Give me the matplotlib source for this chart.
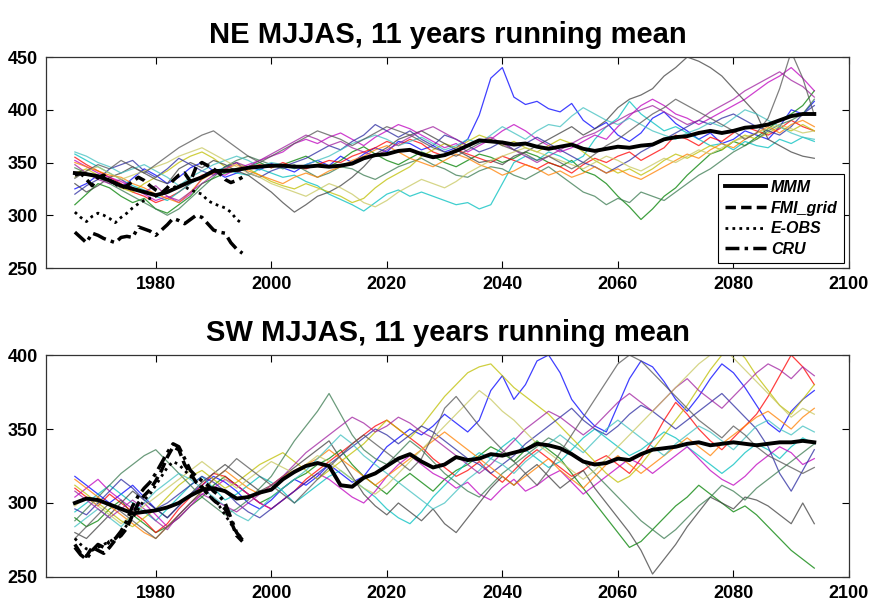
import matplotlib
matplotlib.use("Agg")
from matplotlib import pyplot as plt
import numpy as np

# years of the model curves (every 2nd year) and of the observations
model_years = list(range(1966, 2095, 2))
obs_years = list(range(1966, 1996))

# ---------------- NE panel ----------------
ne_mmm = [340, 339, 337, 333, 328, 325, 322, 319, 322, 327,
          332, 336, 342, 342, 343, 345, 346, 347, 347, 346,
          346, 347, 346, 347, 349, 354, 357, 358, 361, 362,
          358, 355, 357, 361, 366, 371, 370, 369, 367, 368,
          365, 363, 365, 367, 363, 361, 363, 365, 364, 366,
          367, 372, 374, 375, 378, 380, 378, 380, 383, 384,
          386, 390, 394, 396, 396]

ne_m01 = [325, 330, 338, 332, 326, 335, 344, 338, 330, 336,
          345, 350, 342, 336, 340, 346, 343, 349, 345, 341,
          348, 352, 347, 356, 350, 358, 364, 360, 370, 368,
          362, 366, 360, 364, 372, 395, 430, 440, 412, 405,
          408, 401, 398, 406, 390, 382, 388, 376, 370, 378,
          392, 398, 387, 380, 372, 378, 368, 372, 380, 376,
          372, 384, 400, 396, 408]
ne_m02 = [310, 320, 330, 326, 318, 312, 316, 306, 302, 310,
          318, 330, 335, 340, 342, 346, 350, 345, 348, 352,
          356, 350, 346, 352, 360, 365, 358, 352, 348, 354,
          360, 356, 350, 346, 352, 358, 355, 350, 354, 360,
          356, 350, 346, 352, 342, 338, 330, 318, 308, 296,
          306, 318, 326, 338, 348, 358, 362, 370, 366, 374,
          382, 390, 396, 404, 418]
ne_m03 = [355, 348, 342, 336, 330, 322, 318, 312, 316, 322,
          330, 338, 340, 344, 341, 346, 348, 345, 350, 346,
          344, 348, 352, 350, 356, 360, 364, 370, 366, 372,
          368, 360, 356, 362, 358, 354, 350, 356, 352, 348,
          344, 350, 346, 340, 348, 354, 350, 356, 360, 352,
          358, 364, 376, 372, 366, 374, 370, 378, 384, 380,
          376, 382, 390, 384, 380]
ne_m04 = [358, 352, 346, 340, 334, 328, 324, 318, 314, 322,
          330, 336, 342, 345, 340, 338, 344, 340, 336, 338,
          332, 328, 320, 315, 310, 304, 312, 320, 324, 318,
          322, 318, 314, 310, 312, 306, 310, 330, 350, 356,
          352, 360, 356, 350, 356, 372, 384, 392, 408, 396,
          388, 380, 384, 378, 372, 366, 368, 362, 370, 366,
          364, 372, 368, 374, 370]
ne_m05 = [352, 346, 340, 336, 332, 326, 320, 314, 318, 312,
          320, 335, 340, 338, 344, 348, 352, 356, 360, 368,
          372, 368, 374, 378, 372, 366, 374, 380, 386, 382,
          376, 370, 364, 368, 360, 366, 372, 380, 386, 380,
          372, 366, 360, 364, 370, 376, 372, 384, 394, 404,
          410, 404, 396, 392, 386, 392, 398, 404, 410, 418,
          426, 432, 440, 430, 418]
ne_m06 = [340, 344, 338, 332, 326, 322, 330, 336, 342, 350,
          356, 360, 354, 346, 350, 344, 338, 332, 328, 325,
          330, 326, 322, 318, 312, 316, 326, 334, 340, 346,
          356, 362, 368, 364, 370, 376, 372, 366, 370, 364,
          360, 366, 372, 368, 360, 352, 346, 340, 344, 338,
          344, 352, 358, 354, 360, 366, 362, 370, 376, 372,
          378, 384, 380, 386, 380]
ne_m07 = [330, 322, 328, 336, 340, 346, 340, 334, 330, 344,
          350, 345, 352, 348, 342, 338, 330, 322, 312, 303,
          310, 318, 322, 328, 336, 346, 358, 364, 372, 376,
          380, 374, 368, 362, 356, 350, 352, 348, 356, 360,
          366, 372, 378, 384, 376, 382, 390, 402, 410, 414,
          420, 432, 440, 450, 446, 440, 432, 420, 408, 396,
          372, 366, 360, 356, 354]
ne_m08 = [320, 328, 334, 344, 348, 352, 342, 336, 344, 354,
          348, 342, 338, 346, 350, 340, 336, 342, 346, 350,
          354, 360, 366, 362, 370, 376, 386, 380, 374, 380,
          372, 366, 376, 372, 366, 360, 364, 370, 362, 368,
          374, 368, 362, 356, 350, 346, 340, 346, 352, 360,
          366, 372, 378, 384, 390, 386, 392, 396, 390, 384,
          380, 376, 384, 396, 404]
ne_m09 = [345, 340, 336, 330, 324, 318, 312, 306, 300, 306,
          316, 326, 336, 346, 352, 356, 352, 348, 344, 348,
          342, 336, 340, 346, 344, 338, 334, 340, 346, 350,
          354, 348, 344, 338, 336, 342, 346, 344, 338, 334,
          340, 346, 338, 330, 322, 318, 310, 316, 312, 322,
          318, 314, 322, 330, 338, 344, 352, 360, 366, 372,
          380, 386, 390, 396, 410]
ne_m10 = [350, 346, 342, 338, 336, 330, 326, 320, 316, 312,
          322, 334, 340, 344, 348, 342, 338, 334, 330, 336,
          340, 336, 342, 346, 352, 356, 362, 366, 360, 354,
          350, 346, 352, 358, 354, 348, 344, 338, 342, 348,
          344, 338, 342, 336, 340, 346, 340, 344, 338, 334,
          340, 346, 352, 358, 354, 362, 368, 364, 372, 378,
          384, 378, 386, 390, 384]
ne_m11 = [360, 356, 350, 346, 340, 344, 348, 342, 336, 328,
          336, 342, 348, 352, 356, 352, 346, 350, 348, 344,
          348, 352, 356, 362, 368, 372, 376, 372, 366, 370,
          374, 368, 362, 366, 372, 368, 376, 384, 378, 372,
          380, 386, 384, 394, 402, 396, 390, 386, 392, 386,
          380, 376, 372, 378, 382, 388, 384, 392, 400, 396,
          390, 384, 378, 374, 372]
ne_m12 = [348, 340, 334, 330, 334, 326, 322, 328, 318, 314,
          322, 330, 338, 344, 350, 346, 352, 358, 364, 370,
          376, 372, 366, 370, 364, 360, 356, 362, 368, 374,
          380, 384, 378, 372, 366, 370, 374, 368, 362, 356,
          350, 356, 362, 368, 374, 378, 384, 390, 396, 400,
          404, 398, 392, 386, 390, 398, 404, 410, 418, 424,
          430, 436, 428, 422, 412]
ne_m13 = [336, 342, 346, 340, 334, 338, 342, 346, 350, 356,
          360, 364, 358, 352, 346, 340, 336, 330, 326, 322,
          318, 324, 330, 326, 320, 312, 308, 314, 322, 328,
          334, 330, 326, 332, 340, 346, 352, 356, 360, 364,
          360, 356, 352, 348, 344, 350, 356, 352, 346, 342,
          348, 354, 350, 356, 362, 358, 364, 370, 374, 378,
          382, 386, 382, 378, 380]
ne_m14 = [335, 342, 348, 344, 352, 346, 340, 348, 356, 364,
          370, 376, 380, 372, 364, 356, 350, 356, 362, 368,
          374, 380, 376, 372, 366, 372, 378, 384, 380, 376,
          370, 364, 360, 356, 362, 368, 372, 366, 362, 358,
          352, 356, 350, 344, 350, 358, 366, 372, 380, 388,
          396, 402, 410, 404, 398, 392, 386, 380, 372, 378,
          392, 420, 455, 430, 395]

ne_fmi = [338, 340, 334, 328, 336, 338, 333, 330, 326, 328,
          332, 336, 333, 328, 324, 321, 326, 333, 338, 340,
          332, 346, 350, 347, 344, 340, 334, 331, 333, 336]
ne_eobs = [303, 298, 294, 299, 302, 300, 297, 293, 298, 302,
           307, 311, 314, 316, 318, 320, 322, 326, 329, 327,
           324, 322, 320, 314, 311, 309, 307, 303, 296, 292]
ne_cru = [284, 279, 274, 283, 281, 278, 276, 274, 279, 280,
          279, 289, 287, 285, 281, 286, 291, 297, 295, 292,
          296, 300, 298, 292, 286, 284, 283, 274, 268, 264]

# ---------------- SW panel ----------------
sw_mmm = [300, 303, 302, 299, 296, 293, 294, 295, 297, 300,
          305, 309, 310, 308, 303, 304, 307, 309, 316, 321,
          325, 327, 325, 312, 311, 317, 320, 325, 330, 333,
          328, 324, 326, 331, 329, 330, 333, 332, 334, 336,
          340, 339, 337, 333, 328, 326, 327, 330, 329, 333,
          336, 337, 338, 340, 341, 339, 340, 341, 340, 339,
          340, 341, 341, 342, 341]

sw_m01 = [318, 312, 306, 300, 306, 312, 304, 296, 290, 298,
          306, 312, 318, 314, 308, 300, 296, 302, 310, 316,
          312, 318, 326, 320, 314, 318, 328, 338, 344, 350,
          346, 352, 360, 354, 348, 356, 376, 386, 370, 380,
          396, 400, 388, 370, 360, 352, 348, 366, 384, 396,
          392, 382, 370, 362, 372, 384, 394, 388, 378, 366,
          354, 348, 362, 370, 376]
sw_m02 = [290, 284, 288, 296, 302, 292, 286, 280, 284, 290,
          298, 304, 312, 318, 312, 306, 300, 304, 310, 316,
          320, 326, 330, 336, 326, 318, 312, 306, 314, 320,
          314, 308, 316, 322, 326, 332, 338, 334, 328, 336,
          342, 336, 330, 320, 310, 300, 290, 280, 270, 274,
          282, 290, 298, 304, 312, 306, 300, 294, 298, 292,
          284, 276, 268, 262, 256]
sw_m03 = [310, 304, 298, 306, 300, 294, 288, 280, 286, 296,
          304, 312, 320, 318, 312, 306, 300, 296, 302, 308,
          316, 322, 328, 334, 340, 346, 352, 356, 350, 344,
          338, 330, 324, 318, 322, 328, 320, 314, 322, 330,
          336, 330, 324, 318, 322, 328, 332, 326, 320, 330,
          342, 356, 368, 360, 350, 342, 336, 344, 352, 360,
          372, 386, 400, 392, 380]
sw_m04 = [294, 300, 306, 312, 306, 300, 294, 288, 296, 304,
          312, 318, 310, 302, 306, 312, 318, 314, 308, 300,
          306, 312, 318, 322, 316, 310, 304, 296, 290, 286,
          294, 304, 312, 320, 328, 334, 330, 338, 344, 336,
          330, 324, 328, 336, 344, 350, 344, 338, 332, 336,
          342, 348, 344, 338, 332, 326, 320, 326, 334, 340,
          336, 330, 338, 344, 340]
sw_m05 = [304, 310, 316, 308, 302, 296, 300, 292, 284, 290,
          298, 306, 310, 316, 312, 306, 300, 296, 302, 308,
          314, 320, 316, 310, 304, 300, 308, 318, 326, 332,
          326, 320, 316, 310, 314, 306, 302, 310, 316, 308,
          312, 318, 322, 314, 306, 312, 318, 324, 330, 326,
          320, 326, 332, 338, 330, 322, 316, 312, 318, 326,
          332, 338, 334, 326, 330]
sw_m06 = [312, 306, 300, 294, 288, 284, 290, 296, 304, 312,
          318, 322, 316, 310, 314, 320, 326, 330, 334, 328,
          322, 316, 322, 328, 334, 340, 348, 356, 350, 344,
          352, 362, 372, 380, 388, 392, 394, 386, 378, 372,
          366, 360, 352, 344, 336, 328, 320, 314, 318, 326,
          336, 346, 356, 366, 378, 390, 400, 406, 398, 386,
          376, 366, 360, 370, 380]
sw_m07 = [280, 276, 284, 292, 300, 308, 302, 296, 290, 298,
          306, 314, 320, 326, 320, 314, 308, 312, 318, 324,
          330, 336, 342, 330, 318, 306, 298, 292, 300, 294,
          288, 296, 286, 280, 290, 300, 310, 318, 312, 320,
          326, 318, 310, 316, 322, 310, 300, 290, 280, 268,
          252, 262, 272, 284, 294, 304, 300, 296, 304, 302,
          298, 292, 286, 300, 286]
sw_m08 = [296, 292, 300, 308, 316, 310, 302, 296, 300, 306,
          312, 318, 314, 308, 300, 294, 290, 296, 302, 308,
          314, 320, 326, 332, 338, 344, 350, 346, 340, 346,
          352, 348, 342, 336, 330, 326, 320, 326, 332, 340,
          346, 352, 358, 364, 356, 350, 346, 352, 360, 366,
          362, 356, 350, 356, 362, 368, 374, 366, 358, 350,
          338, 320, 308, 322, 336]
sw_m09 = [288, 296, 304, 312, 320, 326, 332, 336, 328, 320,
          312, 304, 298, 292, 296, 302, 310, 318, 330, 342,
          352, 362, 374, 360, 346, 336, 330, 326, 334, 342,
          336, 328, 320, 314, 308, 304, 312, 320, 326, 332,
          338, 344, 340, 334, 328, 320, 312, 304, 296, 288,
          282, 276, 282, 290, 298, 304, 312, 308, 302, 310,
          316, 322, 328, 334, 340]
sw_m10 = [316, 310, 304, 298, 292, 286, 280, 276, 284, 292,
          300, 308, 316, 322, 316, 310, 306, 312, 318, 322,
          326, 330, 336, 330, 324, 318, 312, 318, 324, 330,
          336, 342, 348, 342, 336, 330, 324, 318, 312, 318,
          324, 330, 322, 316, 310, 318, 326, 332, 326, 320,
          326, 332, 338, 344, 338, 332, 340, 346, 352, 358,
          362, 356, 350, 358, 364]
sw_m11 = [284, 290, 296, 290, 284, 292, 300, 308, 314, 320,
          316, 310, 304, 298, 292, 288, 296, 304, 310, 316,
          322, 330, 338, 346, 340, 332, 326, 320, 314, 308,
          302, 296, 300, 308, 316, 322, 330, 326, 320, 328,
          334, 340, 346, 340, 334, 342, 350, 356, 350, 344,
          338, 332, 340, 346, 352, 348, 342, 336, 344, 352,
          356, 350, 346, 352, 348]
sw_m12 = [308, 302, 296, 290, 296, 302, 296, 288, 282, 292,
          300, 306, 302, 298, 294, 300, 306, 312, 318, 326,
          334, 340, 346, 352, 358, 354, 348, 352, 358, 354,
          348, 344, 338, 332, 326, 320, 326, 334, 342, 350,
          356, 362, 358, 352, 346, 352, 360, 368, 374, 368,
          362, 370, 378, 384, 376, 370, 364, 372, 380, 388,
          394, 390, 384, 392, 386]
sw_m13 = [298, 304, 298, 292, 286, 292, 298, 304, 310, 316,
          322, 328, 322, 316, 310, 316, 322, 328, 324, 320,
          326, 332, 328, 322, 316, 310, 306, 312, 320, 328,
          336, 344, 352, 360, 368, 376, 370, 362, 356, 348,
          340, 334, 328, 322, 316, 322, 330, 338, 346, 354,
          362, 370, 378, 386, 394, 400, 406, 398, 390, 382,
          374, 366, 358, 364, 360]
sw_m14 = [276, 284, 292, 300, 294, 288, 282, 276, 284, 292,
          300, 308, 316, 322, 330, 324, 318, 312, 306, 300,
          308, 316, 324, 332, 340, 346, 340, 334, 328, 322,
          330, 346, 364, 372, 362, 352, 344, 336, 328, 320,
          312, 322, 334, 346, 358, 370, 382, 394, 400, 396,
          388, 380, 372, 364, 356, 350, 344, 352, 346, 338,
          332, 328, 324, 320, 324]

sw_fmi = [272, 266, 264, 270, 268, 266, 270, 275, 278, 283,
          292, 300, 305, 309, 315, 322, 331, 338, 336, 326,
          320, 314, 311, 306, 302, 299, 296, 288, 278, 274]
sw_eobs = [276, 272, 269, 268, 270, 272, 274, 276, 280, 285,
           290, 296, 302, 306, 312, 318, 324, 328, 326, 322,
           318, 314, 310, 306, 302, 298, 292, 286, 280, 276]
sw_cru = [270, 265, 262, 268, 272, 270, 274, 276, 281, 288,
          298, 305, 310, 314, 320, 327, 334, 340, 338, 330,
          322, 318, 315, 312, 308, 305, 300, 290, 280, 275]

# matlab-like line colours for the ensemble members
colours = ['#0000ff', '#008000', '#ff0000', '#00bfbf', '#bf00bf', '#bfbf00', '#404040',
           '#2a2aa0', '#3a7a50', '#ff8000', '#40c0c0', '#a020a0', '#c8c860', '#555555']

ne_models = [ne_m01, ne_m02, ne_m03, ne_m04, ne_m05, ne_m06, ne_m07,
             ne_m08, ne_m09, ne_m10, ne_m11, ne_m12, ne_m13, ne_m14]
sw_models = [sw_m01, sw_m02, sw_m03, sw_m04, sw_m05, sw_m06, sw_m07,
             sw_m08, sw_m09, sw_m10, sw_m11, sw_m12, sw_m13, sw_m14]

plt.rcParams['font.family'] = ['Liberation Sans', 'DejaVu Sans']

fig = plt.figure(figsize=(8.71, 6.08), dpi=100)
ax1 = fig.add_axes([0.0528, 0.5592, 0.9219, 0.3470])
ax2 = fig.add_axes([0.0528, 0.0510, 0.9219, 0.3651])


def draw_panel(ax, models, mmm, fmi, eobs, cru, title, ylim, yticks):
    for i, m in enumerate(models):
        ax.plot(model_years, m, color=colours[i], lw=0.9, alpha=0.75, zorder=2)
    l1, = ax.plot(model_years, mmm, color='black', lw=2.8, zorder=5)
    l2, = ax.plot(obs_years, fmi, color='black', lw=2.5, ls=(0, (3, 1.5)), zorder=4)
    l3, = ax.plot(obs_years, eobs, color='black', lw=2, ls=(0, (1, 1.5)), zorder=4)
    l4, = ax.plot(obs_years, cru, color='black', lw=2.5, ls=(0, (4, 1.5, 1, 1.5)), zorder=4)
    ax.set_xlim(1961, 2100)
    ax.set_ylim(*ylim)
    ax.set_xticks([1980, 2000, 2020, 2040, 2060, 2080, 2100])
    ax.set_yticks(yticks)
    ax.tick_params(direction='in', length=5, top=True, right=True,
                   labelsize=13, width=0.8, pad=6)
    for lab in ax.get_xticklabels() + ax.get_yticklabels():
        lab.set_fontweight('bold')
    for s in ax.spines.values():
        s.set_linewidth(0.9)
        s.set_color('#333333')
    ax.set_title(title, fontsize=21, fontweight='bold', pad=10)
    return [l1, l2, l3, l4]


handles = draw_panel(ax1, ne_models, ne_mmm, ne_fmi, ne_eobs, ne_cru,
                     "NE MJJAS, 11 years running mean", (250, 450), [250, 300, 350, 400, 450])
draw_panel(ax2, sw_models, sw_mmm, sw_fmi, sw_eobs, sw_cru,
           "SW MJJAS, 11 years running mean", (250, 400), [250, 300, 350, 400])

leg = ax1.legend(handles, ['MMM', 'FMI_grid', 'E-OBS', 'CRU'], loc='lower right',
                 fancybox=False, edgecolor='black', framealpha=1,
                 prop={'style': 'italic', 'size': 11.5, 'weight': 'bold'},
                 handlelength=2.6, handletextpad=0.3, labelspacing=0.35,
                 borderaxespad=0.3, borderpad=0.4)
leg.get_frame().set_linewidth(0.8)

fig.savefig("out.png", dpi=100)
